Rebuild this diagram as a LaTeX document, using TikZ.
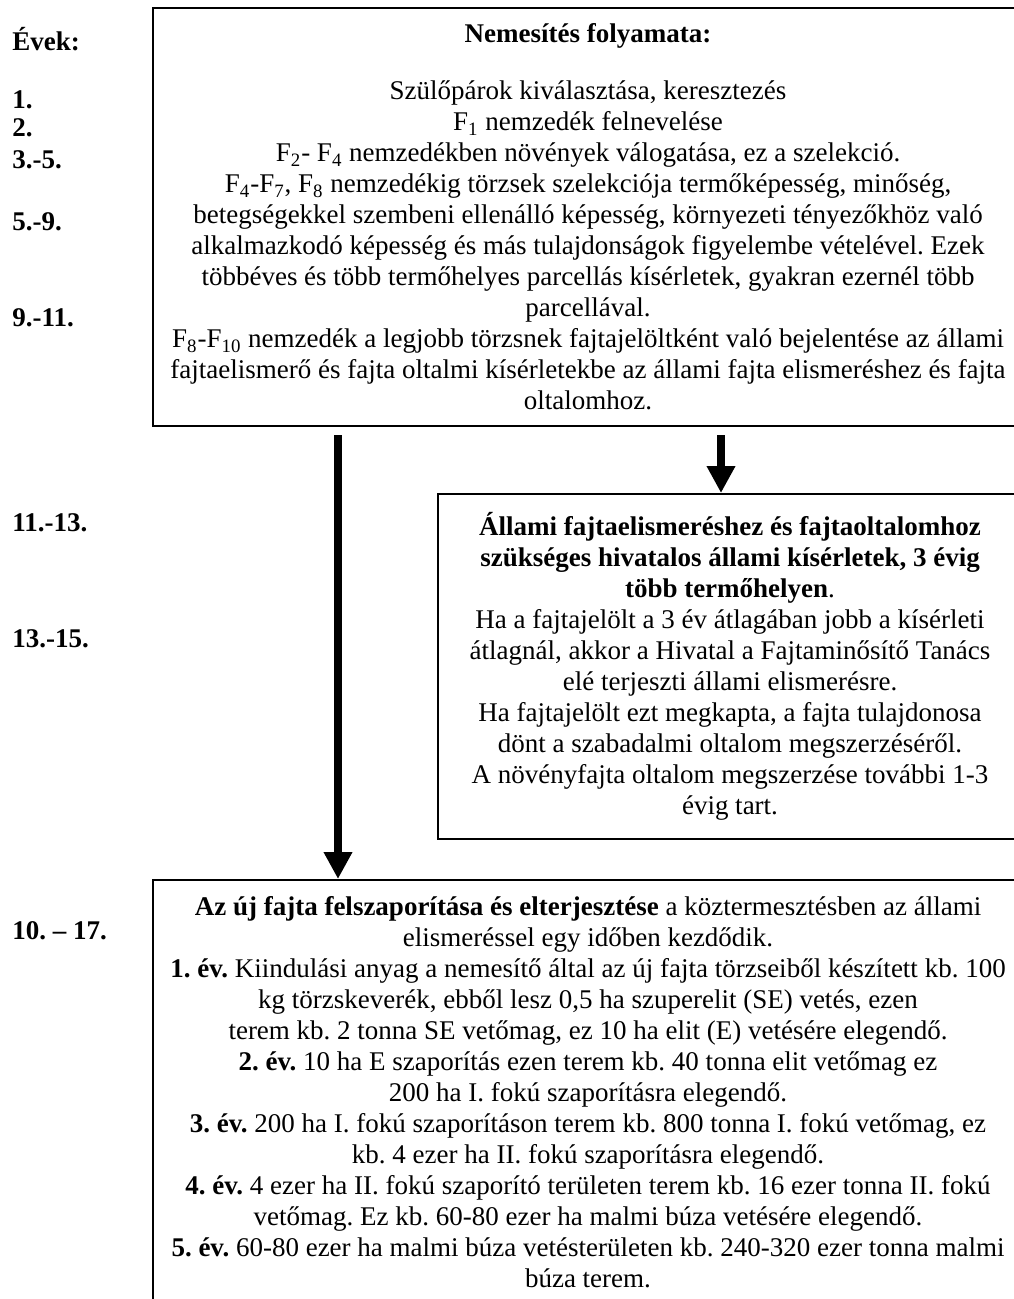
\documentclass[tikz,border=0pt]{standalone}
\usepackage{fontspec}
\setmainfont{Liberation Serif}
\usetikzlibrary{arrows.meta, positioning}
\frenchspacing

\begin{document}
\begin{tikzpicture}[
    x=0.5pt, y=-0.5pt,
    box/.style     = {draw, line width=1pt, align=center, anchor=north west,
                      inner sep=0pt, font=\fontsize{13.5}{15.5}\selectfont},
    yearlbl/.style = {anchor=base west, inner sep=0pt,
                      font=\bfseries\fontsize{13.5}{15.5}\selectfont},
    arrow/.style   = {-{Triangle[width=13.5pt, length=13.5pt]}, line width=4pt},
]
\useasboundingbox (0,0) rectangle (1013,1299);

%% Years column
\node[yearlbl] (yhead) at (12,51)  {Évek:};
\node[yearlbl] (y1)    at (12,109) {1.};
\node[yearlbl] (y2)    at (12,137) {2.};
\node[yearlbl] (y3)    at (12,169) {3.-5.};
\node[yearlbl] (y5)    at (12,231) {5.-9.};
\node[yearlbl] (y9)    at (12,327) {9.-11.};
\node[yearlbl] (y11)   at (12,531) {11.-13.};
\node[yearlbl] (y13)   at (12,647) {13.-15.};
\node[yearlbl] (y10)   at (12,939) {10. – 17.};

%% Breeding process
\node[box, minimum width=435pt, minimum height=209pt] (breed) at (152,7)
  {\textbf{Nemesítés folyamata:}\\[13pt]
   Szülőpárok kiválasztása, keresztezés\\
   F\textsubscript{1} nemzedék felnevelése\\
   F\textsubscript{2}- F\textsubscript{4} nemzedékben növények válogatása, ez a szelekció.\\
   F\textsubscript{4}-F\textsubscript{7}, F\textsubscript{8} nemzedékig törzsek szelekciója termőképesség, minőség,\\
   betegségekkel szembeni ellenálló képesség, környezeti tényezőkhöz való\\
   alkalmazkodó képesség és más tulajdonságok figyelembe vételével. Ezek\\
   többéves és több termőhelyes parcellás kísérletek, gyakran ezernél több\\
   parcellával.\\
   F\textsubscript{8}-F\textsubscript{10} nemzedék a legjobb törzsnek fajtajelöltként való bejelentése az állami\\
   fajtaelismerő és fajta oltalmi kísérletekbe az állami fajta elismeréshez és fajta\\
   oltalomhoz.};

%% State trials
\node[box, minimum width=292pt, minimum height=172.5pt] (trial) at (437,493)
  {\textbf{Állami fajtaelismeréshez és fajtaoltalomhoz}\\
   \textbf{szükséges hivatalos állami kísérletek, 3 évig}\\
   \textbf{több termőhelyen}.\\
   Ha a fajtajelölt a 3 év átlagában jobb a kísérleti\\
   átlagnál, akkor a Hivatal a Fajtaminősítő Tanács\\
   elé terjeszti állami elismerésre.\\
   Ha fajtajelölt ezt megkapta, a fajta tulajdonosa\\
   dönt a szabadalmi oltalom megszerzéséről.\\
   A növényfajta oltalom megszerzése további 1-3\\
   évig tart.};

%% Seed multiplication
\node[box, minimum width=435pt, minimum height=212.5pt] (spread) at (152,879)
  {\textbf{Az új fajta felszaporítása és elterjesztése} a köztermesztésben az állami\\
   elismeréssel egy időben kezdődik.\\
   \textbf{1. év.} Kiindulási anyag a nemesítő által az új fajta törzseiből készített kb. 100\\
   kg törzskeverék, ebből lesz 0,5 ha szuperelit (SE) vetés, ezen\\
   terem kb. 2 tonna SE vetőmag, ez 10 ha elit (E) vetésére elegendő.\\
   \textbf{2. év.} 10 ha E szaporítás ezen terem kb. 40 tonna elit vetőmag ez\\
   200 ha I. fokú szaporításra elegendő.\\
   \textbf{3. év.} 200 ha I. fokú szaporításon terem kb. 800 tonna I. fokú vetőmag, ez\\
   kb. 4 ezer ha II. fokú szaporításra elegendő.\\
   \textbf{4. év.} 4 ezer ha II. fokú szaporító területen terem kb. 16 ezer tonna II. fokú\\
   vetőmag. Ez kb. 60-80 ezer ha malmi búza vetésére elegendő.\\
   \textbf{5. év.} 60-80 ezer ha malmi búza vetésterületen kb. 240-320 ezer tonna malmi\\
   búza terem.};

%% Arrows
\draw[arrow] ([xshift=-125pt, yshift=-4pt]breed.south) -- ([xshift=-125pt]spread.north);
\draw[arrow] ([xshift=66.5pt, yshift=-4pt]breed.south) -- ([xshift=-4.5pt]trial.north);

\end{tikzpicture}
\end{document}
